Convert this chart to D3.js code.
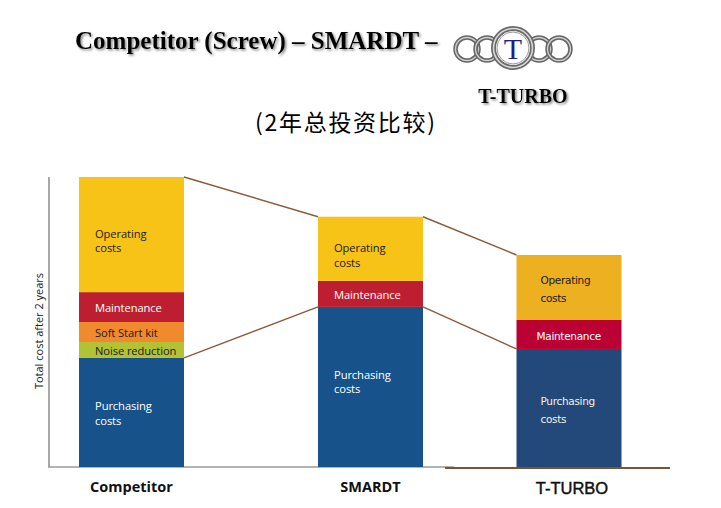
<!DOCTYPE html>
<html>
<head>
<meta charset="utf-8">
<script src="https://cdn.jsdelivr.net/npm/d3@7"></script>
<style>
  body { margin: 0; background: #fff; }
  svg { display: block; }
</style>
</head>
<body>
<div id="chart"></div>
<script>
// values (total of Competitor = 100)
var categories = ["Competitor", "SMARDT", "T-TURBO"];
var purchasing = [37.6, 55.2, 40.7];
var noiseReduction = [5.5, 0, 0];
var softStart = [6.9, 0, 0];
var maintenance = [10.3, 9.0, 10.0];
var operating = [39.7, 22.1, 22.4];

var keys = ["purchasing", "noise", "soft", "maintenance", "operating"];
var segLabels = {
  purchasing: ["Purchasing", "costs"],
  noise: ["Noise reduction"],
  soft: ["Soft Start kit"],
  maintenance: ["Maintenance"],
  operating: ["Operating", "costs"]
};
var colors = {
  purchasing: "#17538a", noise: "#b3c234", soft: "#f08a2d",
  maintenance: "#bd1f30", operating: "#f6c316"
};
var colorsTT = {
  purchasing: "#224979", maintenance: "#bb0034", operating: "#ecb021"
};
var textColors = {
  purchasing: "#fff", noise: "#1a1a1a", soft: "#1a1a1a",
  maintenance: "#fff", operating: "#1a1a1a"
};

var width = 721, height = 508;

var rows = categories.map(function(c, i) {
  return { cat: c, purchasing: purchasing[i], noise: noiseReduction[i],
           soft: softStart[i], maintenance: maintenance[i], operating: operating[i] };
});

var stacked = d3.stack().keys(keys)(rows);

var svg = d3.select("#chart").append("svg")
  .attr("width", width).attr("height", height);

var defs = svg.append("defs");
var shadow = defs.append("filter").attr("id", "shadow")
  .attr("x", "-10%").attr("y", "-30%").attr("width", "120%").attr("height", "160%");
shadow.append("feDropShadow").attr("dx", 1.5).attr("dy", 1.5)
  .attr("stdDeviation", 0.8).attr("flood-color", "#555").attr("flood-opacity", 0.7);

/* scales */
var y = d3.scaleLinear().domain([0, 100]).range([467, 177]);
var xCenter = d3.scaleOrdinal().domain(categories).range([131.5, 370.5, 569]);
var barW = 105;

/* title */
svg.append("text")
  .attr("x", 75).attr("y", 49)
  .attr("font-family", "Liberation Serif, Times New Roman, serif")
  .attr("font-weight", "bold").attr("font-size", 25)
  .attr("filter", "url(#shadow)")
  .text("Competitor (Screw) \u2013 SMARDT \u2013");

/* logo: rings */
var logo = svg.append("g");
var rings = [467, 487, 539, 559];
rings.forEach(function(cx) {
  logo.append("circle").attr("cx", cx).attr("cy", 49).attr("r", 11.5)
    .attr("fill", "none").attr("stroke", "#666").attr("stroke-width", 4.5);
  logo.append("circle").attr("cx", cx).attr("cy", 49).attr("r", 11.5)
    .attr("fill", "none").attr("stroke", "#cfcfcf").attr("stroke-width", 1.4);
});
logo.append("circle").attr("cx", 513).attr("cy", 48).attr("r", 19.5)
  .attr("fill", "#fff").attr("stroke", "#6a6a6a").attr("stroke-width", 5);
logo.append("circle").attr("cx", 513).attr("cy", 48).attr("r", 19.5)
  .attr("fill", "none").attr("stroke", "#d8d8d8").attr("stroke-width", 1.6);
logo.append("circle").attr("cx", 513).attr("cy", 48).attr("r", 16)
  .attr("fill", "none").attr("stroke", "#999").attr("stroke-width", 1);
logo.append("text").attr("x", 513).attr("y", 59)
  .attr("text-anchor", "middle")
  .attr("font-family", "Liberation Serif, Times New Roman, serif")
  .attr("font-size", 30).attr("fill", "#1c1f86")
  .text("T");

svg.append("text")
  .attr("x", 523).attr("y", 103).attr("text-anchor", "middle")
  .attr("font-family", "Liberation Serif, Times New Roman, serif")
  .attr("font-weight", "bold").attr("font-size", 20)
  .attr("filter", "url(#shadow)")
  .text("T-TURBO");

svg.append("text")
  .attr("x", 345).attr("y", 131).attr("text-anchor", "middle")
  .attr("font-family", "Noto Sans CJK SC, serif")
  .attr("font-size", 23)
  .attr("textLength", 180)
  .text("(2年总投资比较)");

/* axes */
svg.append("line")
  .attr("x1", 49).attr("x2", 49).attr("y1", y(100)).attr("y2", y(0))
  .attr("stroke", "#7a7a7a").attr("stroke-width", 1.3);
svg.append("line")
  .attr("x1", 48).attr("x2", 454).attr("y1", y(0)).attr("y2", y(0))
  .attr("stroke", "#9a9a9a").attr("stroke-width", 1.5);
svg.append("line")
  .attr("x1", 445).attr("x2", 670).attr("y1", y(0) + 1).attr("y2", y(0) + 1)
  .attr("stroke", "#7b5436").attr("stroke-width", 2);

svg.append("text")
  .attr("transform", "translate(43," + ((y(100) + y(0)) / 2 + 9) + ") rotate(-90)")
  .attr("text-anchor", "middle")
  .attr("font-family", "Open Sans, sans-serif")
  .attr("font-size", 11).attr("fill", "#222")
  .text("Total cost after 2 years");

/* connector lines between bars */
var totals = rows.map(function(r) {
  return d3.sum(keys, function(k) { return r[k]; });
});
var conn = svg.append("g").attr("stroke", "#8b5a3c").attr("stroke-width", 1.4);
for (var i = 0; i < categories.length - 1; i++) {
  var xa = xCenter(categories[i]) + barW / 2,
      xb = xCenter(categories[i + 1]) - barW / 2;
  conn.append("line").attr("x1", xa).attr("x2", xb)
    .attr("y1", y(totals[i])).attr("y2", y(totals[i + 1]));
  conn.append("line").attr("x1", xa).attr("x2", xb)
    .attr("y1", y(purchasing[i])).attr("y2", y(purchasing[i + 1]));
}

/* bars */
stacked.forEach(function(layer) {
  var key = layer.key;
  var g = svg.append("g");
  g.selectAll("rect")
    .data(layer.filter(function(d) { return d[1] - d[0] > 0; }))
    .enter().append("rect")
      .attr("x", function(d) { return xCenter(d.data.cat) - barW / 2; })
      .attr("width", barW)
      .attr("y", function(d) { return y(d[1]); })
      .attr("height", function(d) { return y(d[0]) - y(d[1]); })
      .attr("fill", function(d) {
        return d.data.cat === "T-TURBO" ? colorsTT[key] : colors[key];
      });

  g.selectAll("text")
    .data(layer.filter(function(d) { return d[1] - d[0] > 0; }))
    .enter().append("text")
      .attr("font-family", function(d) {
        return d.data.cat === "T-TURBO" ? "DejaVu Sans, sans-serif" : "Open Sans, sans-serif";
      })
      .attr("font-size", function(d) { return d.data.cat === "T-TURBO" ? 10.5 : 11.2; })
      .attr("letter-spacing", function(d) { return d.data.cat === "T-TURBO" ? -0.3 : -0.1; })
      .attr("fill", function(d) {
        return (d.data.cat === "T-TURBO" && key === "purchasing") ? "#f4f0e0" : textColors[key];
      })
      .each(function(d) {
        var lines = segLabels[key];
        var tt = d.data.cat === "T-TURBO";
        var lh = tt ? 18 : 14.5;
        var mid = (y(d[0]) + y(d[1])) / 2;
        if (key === "purchasing" && d.data.cat === "SMARDT") mid = y(d[1]) + 74;
        if (key === "operating" && !tt) mid += 5.5;
        var left = xCenter(d.data.cat) - barW / 2 + (tt ? (lines.length > 1 ? 24 : 20) : 16);
        var t0 = mid - (lines.length - 1) * lh / 2 + (tt ? 6 : 5);
        var self = d3.select(this);
        lines.forEach(function(l, j) {
          self.append("tspan").attr("x", left).attr("y", t0 + j * lh).text(l);
        });
      });
});

/* category labels */
svg.selectAll(".cat")
  .data(categories)
  .enter().append("text")
    .attr("class", "cat")
    .attr("x", function(d) { return d === "T-TURBO" ? xCenter(d) + 3 : xCenter(d); })
    .attr("y", function(d) { return d === "T-TURBO" ? 493.5 : 492; })
    .attr("text-anchor", "middle")
    .attr("font-family", function(d) {
      return d === "T-TURBO" ? "Liberation Sans, Arial, sans-serif" : "Open Sans, sans-serif";
    })
    .attr("font-weight", function(d) { return d === "T-TURBO" ? "normal" : "bold"; })
    .attr("font-size", function(d) { return d === "T-TURBO" ? 16.5 : 14.5; })
    .attr("stroke", function(d) { return d === "T-TURBO" ? "#111" : "none"; })
    .attr("stroke-width", 0.45)
    .attr("fill", "#111")
    .text(function(d) { return d; });
</script>
</body>
</html>
